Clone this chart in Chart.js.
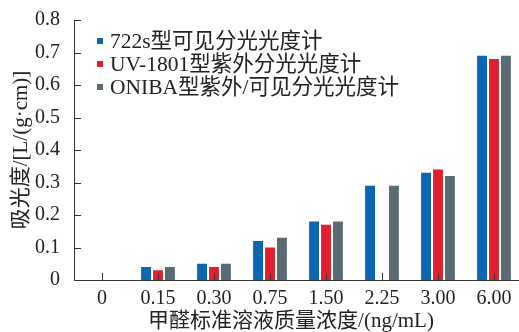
<!DOCTYPE html>
<html>
<head>
<meta charset="utf-8">
<script src="https://cdn.jsdelivr.net/npm/chart.js@4/dist/chart.umd.min.js"></script>
<style>
  html, body { margin: 0; padding: 0; background: #fff; overflow: hidden; }
  #wrap { position: absolute; left: 0; top: 0; width: 523px; height: 332px; }
</style>
</head>
<body>
<div id="wrap"><canvas id="c"></canvas></div>
<script>
// Formaldehyde standard concentrations (ng/mL)
const categories = ['0', '0.15', '0.30', '0.75', '1.50', '2.25', '3.00', '6.00'];
// Absorbance per instrument
const seriesNames = ['722s型可见分光光度计', 'UV-1801型紫外分光光度计', 'ONIBA型紫外/可见分光光度计'];
const abs722s   = [0, 0.04, 0.05, 0.12, 0.18, 0.29, 0.33, 0.69];
const absUV1801 = [0, 0.03, 0.04, 0.10, 0.17, null, 0.34, 0.68];
const absONIBA  = [0, 0.04, 0.05, 0.13, 0.18, 0.29, 0.32, 0.69];
const yTicks = [0, 0.1, 0.2, 0.3, 0.4, 0.5, 0.6, 0.7, 0.8];

const colors = ['#0a66b0', '#e2202b', '#5a6b73'];
const SERIF = '"Liberation Serif", "Noto Sans CJK SC", serif';

// Short tick marks pointing into the plot, drawn over the bars
const innerTicks = {
  id: 'innerTicks',
  afterDatasetsDraw(chart) {
    const { ctx, chartArea: a, scales: { x, y } } = chart;
    ctx.save();
    ctx.strokeStyle = '#333';
    ctx.lineWidth = 1;
    ctx.beginPath();
    x.ticks.forEach((t, i) => {
      const px = Math.round(x.getPixelForTick(i)) + 0.5;
      ctx.moveTo(px, a.bottom);
      ctx.lineTo(px, a.bottom - 7);
    });
    y.ticks.forEach((t, i) => {
      const py = Math.round(y.getPixelForTick(i)) + 0.5;
      ctx.moveTo(a.left, py);
      ctx.lineTo(a.left + 7, py);
    });
    ctx.stroke();
    ctx.restore();
  }
};

// Legend: small colour squares with labels in the upper-left of the plot
const boxLegend = {
  id: 'boxLegend',
  afterDraw(chart) {
    const { ctx, chartArea: a } = chart;
    ctx.save();
    ctx.font = '21.5px ' + SERIF;
    ctx.textBaseline = 'middle';
    ctx.textAlign = 'left';
    chart.data.datasets.forEach((ds, i) => {
      const cy = a.top + 21 + i * 23;
      ctx.fillStyle = ds.backgroundColor;
      ctx.fillRect(a.left + 23, cy - 3, 6, 6);
      ctx.fillStyle = '#222';
      ctx.fillText(ds.label, a.left + 36, cy + 1);
    });
    ctx.restore();
  }
};

// Horizontal axis title
const xTitle = {
  id: 'xTitle',
  afterDraw(chart) {
    const { ctx, chartArea: a } = chart;
    ctx.save();
    ctx.font = '21px ' + SERIF;
    ctx.fillStyle = '#222';
    ctx.textAlign = 'center';
    ctx.textBaseline = 'middle';
    ctx.fillText('甲醛标准溶液质量浓度/(ng/mL)', (a.left + a.right) / 2 - 7, a.bottom + 41);
    ctx.restore();
  }
};

const values = [abs722s, absUV1801, absONIBA];

new Chart(document.getElementById('c'), {
  type: 'bar',
  data: {
    labels: categories,
    datasets: seriesNames.map((name, i) => ({
      label: name,
      data: values[i],
      backgroundColor: colors[i],
      borderWidth: 0,
      categoryPercentage: 0.64,
      barPercentage: 0.83
    }))
  },
  options: {
    responsive: true,
    maintainAspectRatio: false,
    animation: false,
    layout: { padding: { top: 20, right: 1, bottom: 0, left: 0 } },
    plugins: { legend: { display: false }, tooltip: { enabled: false } },
    scales: {
      x: {
        grid: { display: false },
        border: { display: true, color: '#333', width: 1 },
        ticks: { color: '#222', font: { family: SERIF, size: 20 }, padding: -1, maxRotation: 0, autoSkip: false },
        afterFit(s) { s.height = 52; }
      },
      y: {
        min: 0, max: 0.8,
        afterBuildTicks(s) { s.ticks = yTicks.map(v => ({ value: v })); },
        grid: { display: false },
        border: { display: true, color: '#333', width: 1 },
        ticks: {
          color: '#222', font: { family: SERIF, size: 20 }, padding: 6,
          callback: v => (v === 0 ? '0' : v.toFixed(1))
        },
        title: {
          display: true, text: '吸光度/[L/(g·cm)]', color: '#222',
          font: { family: SERIF, size: 21 }, padding: { top: 9, bottom: 0 }
        },
        afterFit(s) { s.width = 74; }
      }
    }
  },
  plugins: [innerTicks, boxLegend, xTitle]
});
</script>
</body>
</html>
